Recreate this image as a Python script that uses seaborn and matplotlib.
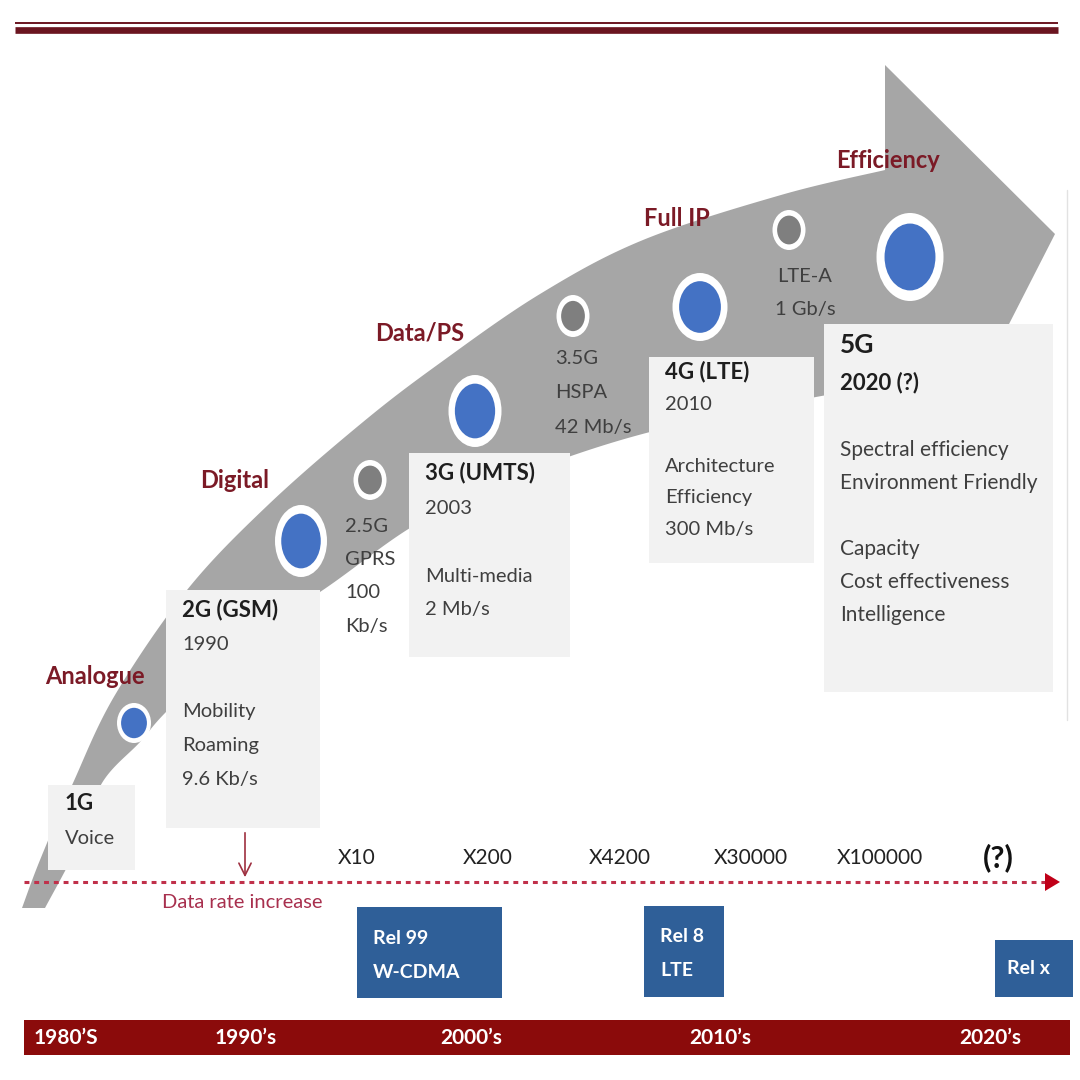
import numpy as np
import matplotlib
matplotlib.use("Agg")
import matplotlib.pyplot as plt
from matplotlib.patches import Rectangle, Ellipse, Polygon
import seaborn as sns

# ---------------- data ----------------
eras = ["Analogue", "Digital", "Data/PS", "Full IP", "Efficiency"]
gen_titles = ["1G", "2G (GSM)", "3G (UMTS)", "4G (LTE)", "5G"]
gen_years = ["", "1990", "2003", "2010", "2020 (?)"]
gen_features = [
    ["Voice"],
    ["Mobility", "Roaming", "9.6 Kb/s"],
    ["Multi-media", "2 Mb/s"],
    ["Architecture", "Efficiency", "300 Mb/s"],
    ["Spectral efficiency", "Environment Friendly", "", "Capacity",
     "Cost effectiveness", "Intelligence"],
]
interim_gens = [["2.5G", "GPRS", "100", "Kb/s"],
                ["3.5G", "HSPA", "42 Mb/s"],
                ["LTE-A", "1 Gb/s"]]
rate_multipliers = ["X10", "X200", "X4200", "X30000", "X100000"]
rate_unknown = "(?)"
releases = [["Rel 99", "W-CDMA"], ["Rel 8", "LTE"], ["Rel x"]]
decades = ["1980\u2019S", "1990\u2019s", "2000\u2019s", "2010\u2019s", "2020\u2019s"]
axis_label = "Data rate increase"

# ---------------- layout (pixel space) ----------------
era_xy = [(95, 676), (235, 480), (420, 333), (677, 218), (888, 160)]
major_circles = [(134, 723, 34, 40), (301, 541, 52, 72), (475, 411, 53, 72),
                 (700, 307, 55, 68), (910, 257, 67, 88)]
minor_circles = [(370, 480, 33, 40), (573, 316, 33, 42), (789, 230, 33, 40)]
gen_boxes = [(48, 785, 135, 870), (166, 590, 320, 828), (409, 453, 570, 657),
             (649, 357, 814, 563), (824, 324, 1053, 692)]
# (title offset, year gap, features gap, line step)
box_text = [(18, 35, 0, 34), (20, 35, 67, 34), (20, 35, 69, 33),
            (15, 32, 63, 31), (21, 38, 67, 33)]
interim_xy = [(345, 526, "left"), (555, 358, "left"), (805, 276, "center")]
interim_step = [33.5, 34.5, 33]
mult_x = [357, 488, 620, 751, 880]
rel_boxes = [(357, 907, 502, 998), (644, 906, 724, 997), (995, 940, 1073, 997)]
decade_x = [66, 246, 471, 720, 990]

upper_edge = [(22, 908), (40, 860), (73, 783), (115, 695), (187, 590),
              (268, 505), (363, 422), (440, 363), (540, 294), (643, 240),
              (781, 195), (885, 170)]
lower_edge = [(885, 385), (816, 397), (740, 412), (650, 432), (571, 456),
              (490, 487), (410, 528), (323, 590), (230, 650), (166, 712),
              (140, 742), (102, 783), (78, 845), (45, 908)]

GRAY = "#A6A6A6"
BLUE = "#4472C4"
DGRAY = "#7F7F7F"
BOXC = "#F2F2F2"
ERA_RED = "#7B1A26"
TXT = "#3F3F3F"
HEAD = "#1E1E1E"
RELBLUE = "#2F5F98"
BAR_RED = "#8B0B0B"


def catmull(pts, n=24):
    pts = np.asarray(pts, float)
    P = np.vstack([pts[0], pts, pts[-1]])
    out = []
    for i in range(1, len(P) - 2):
        p0, p1, p2, p3 = P[i - 1], P[i], P[i + 1], P[i + 2]
        t = np.linspace(0, 1, n, endpoint=False)[:, None]
        out.append(0.5 * ((2 * p1) + (-p0 + p2) * t
                          + (2 * p0 - 5 * p1 + 4 * p2 - p3) * t ** 2
                          + (-p0 + 3 * p1 - 3 * p2 + p3) * t ** 3))
    out.append(pts[-1:])
    return np.vstack(out)


sns.set_theme(style="white")
plt.rcParams["font.family"] = ["Lato", "DejaVu Sans"]

fig = plt.figure(figsize=(10.8, 10.8), dpi=100)
ax = fig.add_axes([0, 0, 1, 1])
ax.set_xlim(0, 1080)
ax.set_ylim(1080, 0)
ax.axis("off")
fig.patch.set_facecolor("white")

# top rule
ax.plot([15, 1058], [23, 23], color="#6B1520", lw=1.4, solid_capstyle="butt")
ax.plot([15, 1058], [30, 30], color="#6B1520", lw=4.8, solid_capstyle="butt")
# faint right border
ax.plot([1067, 1067], [190, 720], color="#E2E2E2", lw=1)

# big curved arrow
up = catmull(upper_edge)
lo = catmull(lower_edge)
head = np.array([(885, 65), (1055, 234), (960, 420)])
poly = np.vstack([up, head, lo])
ax.add_patch(Polygon(poly, closed=True, facecolor=GRAY, edgecolor="none", zorder=1))

# era labels
for name, (x, y) in zip(eras, era_xy):
    ax.text(x, y, name, color=ERA_RED, fontsize=17, fontweight="bold",
            ha="center", va="center", zorder=5)

# milestone circles
for (x, y, w, h) in major_circles:
    ax.add_patch(Ellipse((x, y), w, h, facecolor="white", edgecolor="none", zorder=3))
    ax.add_patch(Ellipse((x, y), w * 0.76, h * 0.76, facecolor=BLUE, edgecolor="none", zorder=4))
for (x, y, w, h) in minor_circles:
    ax.add_patch(Ellipse((x, y), w, h, facecolor="white", edgecolor="none", zorder=3))
    ax.add_patch(Ellipse((x, y), w * 0.72, h * 0.72, facecolor=DGRAY, edgecolor="none", zorder=4))

# generation boxes
for i, (x0, y0, x1, y1) in enumerate(gen_boxes):
    ax.add_patch(Rectangle((x0, y0), x1 - x0, y1 - y0, facecolor=BOXC,
                           edgecolor="none", zorder=2))
    t_off, y_gap, f_gap, step = box_text[i]
    tx = x0 + (17 if i == 0 else 16)
    ty = y0 + t_off
    big = (i == 4)
    ax.text(tx, ty, gen_titles[i], color=HEAD, fontsize=19 if big else 16,
            fontweight="bold", ha="left", va="center", zorder=5)
    ty += y_gap
    if gen_years[i]:
        ax.text(tx, ty, gen_years[i], color=HEAD if big else TXT,
                fontsize=16 if big else 14.5,
                fontweight="bold" if big else "normal",
                ha="left", va="center", zorder=5)
        ty += f_gap
    for line in gen_features[i]:
        if line:
            ax.text(tx, ty, line, color=TXT, fontsize=15 if big else 14.5,
                    ha="left", va="center", zorder=5)
        ty += step

# interim generations
for lines, (x, y, ha), st in zip(interim_gens, interim_xy, interim_step):
    for k, line in enumerate(lines):
        ax.text(x, y + k * st, line, color=TXT, fontsize=14.5, ha=ha,
                va="center", zorder=5)

# data-rate axis
sns.lineplot(x=[24, 1048], y=[882, 882], ax=ax, color="#C0304A", lw=2.2,
             linestyle=(0, (1.6, 1.6)), zorder=3)
ax.add_patch(Polygon([(1045, 873), (1060, 882), (1045, 891)], closed=True,
                     facecolor="#C00018", edgecolor="none", zorder=4))
ax.annotate("", xy=(245, 880), xytext=(245, 830),
            arrowprops=dict(arrowstyle="->", color="#9E3040", lw=1.2,
                            mutation_scale=22), zorder=4)
ax.text(242, 903, axis_label, color="#A8304E", fontsize=14.5, ha="center",
        va="center", zorder=5)
for x, m in zip(mult_x, rate_multipliers):
    ax.text(x, 858, m, color="#222222", fontsize=15, ha="center", va="center", zorder=5)
ax.text(998, 858, rate_unknown, color="#111111", fontsize=22, fontweight="bold",
        ha="center", va="center", zorder=5)

# release boxes
for (x0, y0, x1, y1), lines in zip(rel_boxes, releases):
    ax.add_patch(Rectangle((x0, y0), x1 - x0, y1 - y0, facecolor=RELBLUE,
                           edgecolor="none", zorder=2))
    if len(lines) == 2:
        for k, line in enumerate(lines):
            ax.text(x0 + 16, y0 + 31 + k * 34, line, color="white", fontsize=14,
                    fontweight="bold", ha="left", va="center", zorder=5)
    else:
        ax.text((x0 + x1) / 2 - 6, (y0 + y1) / 2, lines[0], color="white",
                fontsize=14, fontweight="bold", ha="center", va="center", zorder=5)

# decade bar
ax.add_patch(Rectangle((24, 1020), 1046, 35, facecolor=BAR_RED, edgecolor="none", zorder=2))
for x, d in zip(decade_x, decades):
    ax.text(x, 1038, d, color="white", fontsize=15, fontweight="bold",
            ha="center", va="center", zorder=5)

fig.savefig("out.png", dpi=100, facecolor="white")
